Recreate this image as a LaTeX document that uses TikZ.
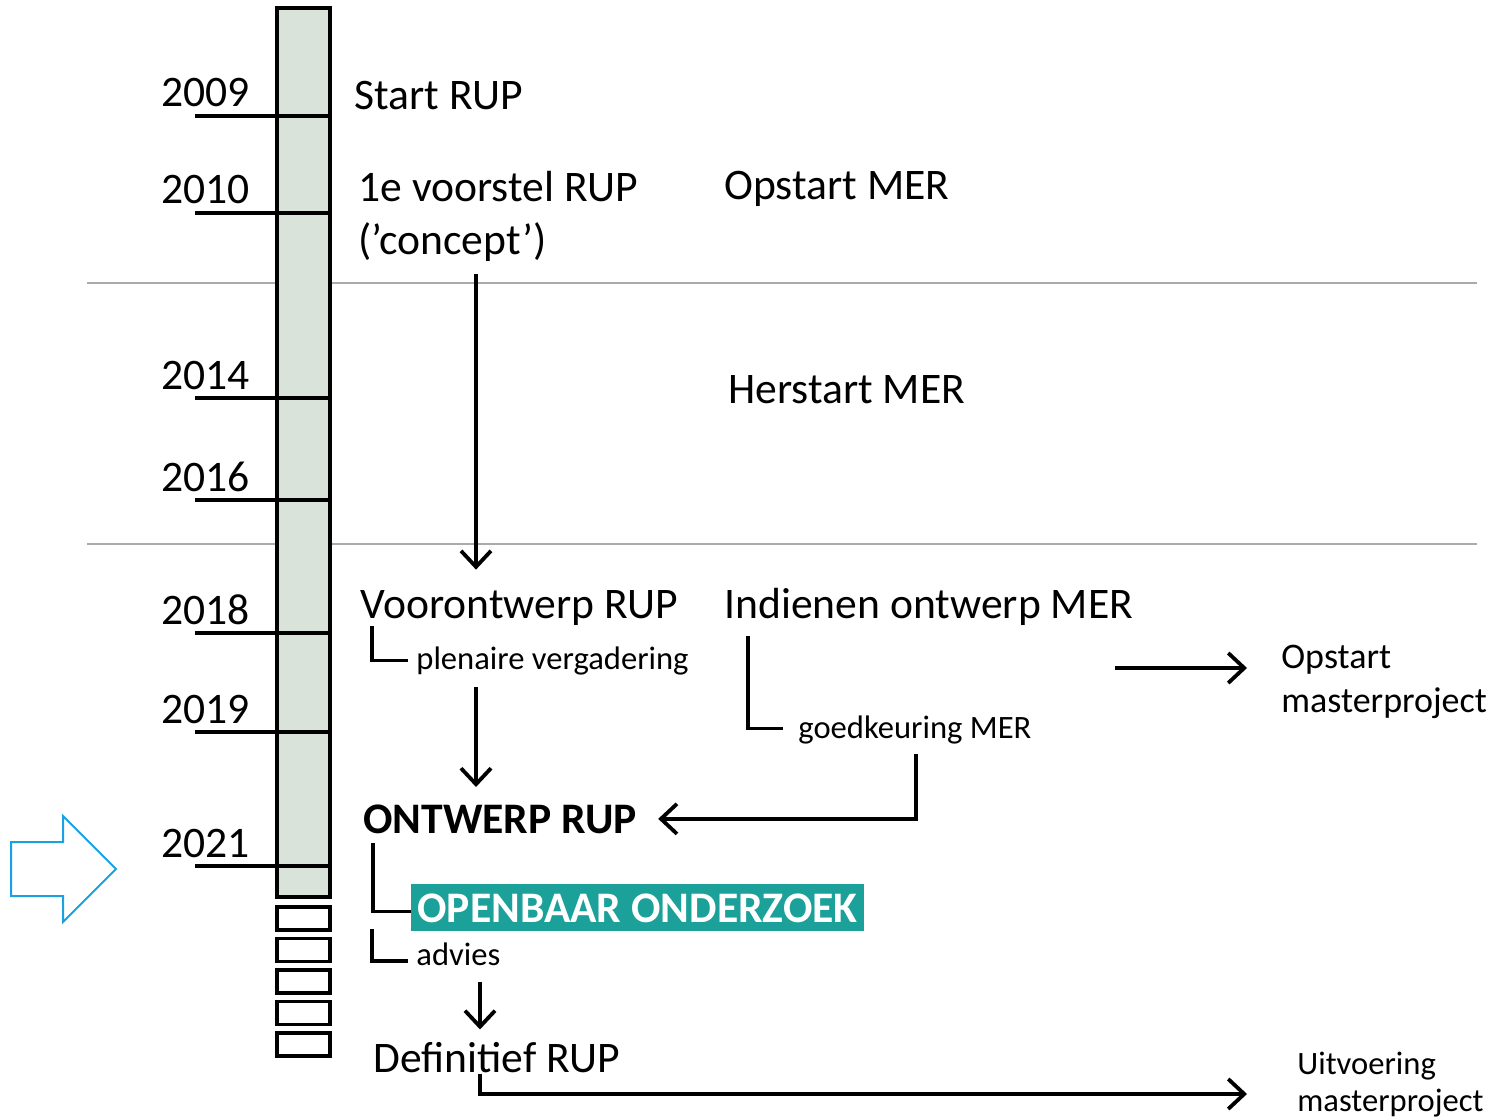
\documentclass[tikz,border=0pt]{standalone}
\usepackage{fontspec}
\setmainfont{Carlito}
\usetikzlibrary{arrows.meta}
\definecolor{barfill}{RGB}{217,227,217}
\definecolor{oteal}{RGB}{27,161,154}
\definecolor{pblue}{RGB}{27,161,226}
\definecolor{sepgray}{RGB}{170,170,170}
\begin{document}
\begin{tikzpicture}[x=0.5pt,y=-0.5pt,
  ln/.style={line width=1.9pt},
  arr/.style={line width=1.9pt,-{Straight Barb[length=8pt,width=15pt]}},
  txt/.style={anchor=base west,inner sep=0pt,font=\fontsize{21.8}{26}\selectfont},
  sml/.style={anchor=base west,inner sep=0pt,font=\fontsize{16.3}{20}\selectfont},
  mst/.style={anchor=base west,inner sep=0pt,font=\fontsize{18}{20}\selectfont}]
\useasboundingbox (0,0) rectangle (1494,1118);
% periods
\draw[sepgray,line width=0.8pt] (87,283) -- (1477,283);
\draw[sepgray,line width=0.8pt] (87,544) -- (1477,544);
% time bar
\draw[line width=2pt,fill=barfill] (277,8) rectangle (330,897);
\foreach \yr/\t in {2009/116,2010/213,2014/398,2016/500,2018/633,2019/732,2021/866}
{
\draw[ln] (195,\t) -- (330,\t);
\node[txt,anchor=base east] (y\yr) at (250,\t-9) {\yr};
}
\foreach \i in {0,...,4}
{
\draw[ln] (277,907+31.5*\i) rectangle (330,930+31.5*\i);
}
% blue arrow
\draw[pblue,line width=1pt] (11,842) -- (63,842) -- (63,816) -- (116,869)
  -- (63,922) -- (63,896) -- (11,896) -- cycle;
% texts
\node[txt] (start) at (354,110) {Start RUP};
\node[txt] (voorst) at (358,202) {1e voorstel RUP};
\node[txt] (concept) at (358,255) {(’concept’)};
\node[txt] (opmer) at (724,200) {Opstart MER};
\node[txt] (hermer) at (728,403) {Herstart MER};
\node[txt] (voor) at (360,618) {Voorontwerp RUP};
\node[txt] (indien) at (724,618) {Indienen ontwerp MER};
\node[sml] (plen) at (416,669) {plenaire vergadering};
\node[sml] (goed) at (798,738) {goedkeuring MER};
\node[txt,font=\fontsize{21.8}{26}\selectfont\bfseries] (ont) at (363,833) {ONTWERP RUP};
\node[mst] (opm1) at (1281,668) {Opstart};
\node[mst] (opm2) at (1281,712) {masterproject};
\node[txt,font=\fontsize{21.8}{26}\selectfont\bfseries,text=white,fill=oteal,
  inner xsep=3pt,inner ysep=0pt,text height=19pt,text depth=4.5pt] (ob) at (411,922) {OPENBAAR ONDERZOEK};
\node[sml] (adv) at (416,965) {advies};
\node[txt] (def) at (373,1072) {Definitief RUP};
\node[sml] (uit1) at (1297,1074) {Uitvoering};
\node[sml] (uit2) at (1297,1111) {masterproject};
% connectors
\coordinate (xa) at (476,0);
\coordinate (xb) at (916,0);
\coordinate (xc) at (480,0);
\coordinate (mstart) at (1115,668);
\coordinate (uend) at (1247,1094);
\draw[arr,shorten <=6pt,shorten >=10pt] (concept.south -| xa) -- (voor.north -| xa);
\draw[arr,shorten <=6pt,shorten >=8.5pt] (plen.south -| xa) -- (ont.north -| xa);
\draw[arr] (goed.south -| xb) ++(0,10) |- ([xshift=10.5pt]ont.east);
\draw[arr] (mstart) -- ([xshift=-17pt]opm1.west |- mstart);
\draw[arr,shorten <=8pt,shorten >=6pt] (adv.south -| xc) -- (def.north -| xc);
\draw[arr] (def.south -| xc) ++(0,1) |- (uend);
\draw[ln] (plen.west) ++(-8,0) -| ++(-36,-34);
\draw[ln] (goed.west) ++(-15,-1) -| ++(-35,-92);
\draw[ln] (ob.west) ++(0,4) -| ++(-38,-69);
\draw[ln] (adv.west) ++(-8,7) -| ++(-36,-32);
\end{tikzpicture}
\end{document}
